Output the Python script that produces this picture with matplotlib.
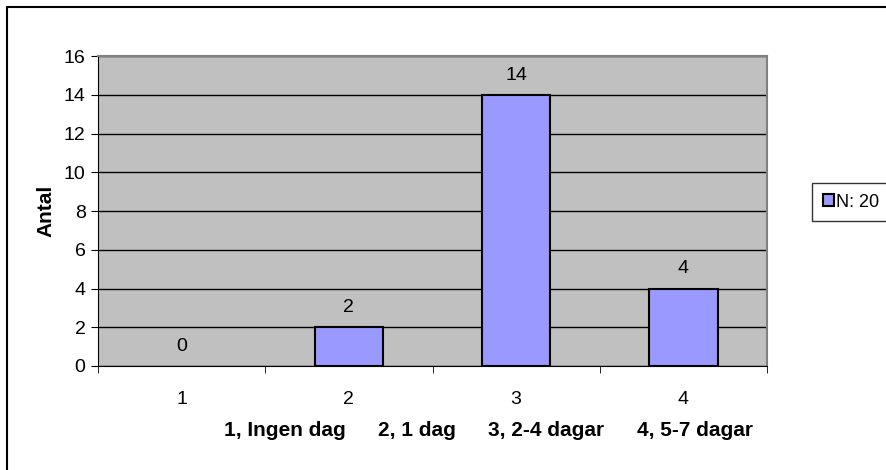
import matplotlib
matplotlib.use("Agg")
import matplotlib.pyplot as plt
from matplotlib.patches import Rectangle, Patch

# data
categories = [1, 2, 3, 4]
counts = [0, 2, 14, 4]
series_name = "N: 20"
category_names = ["1, Ingen dag", "2, 1 dag", "3, 2-4 dagar", "4, 5-7 dagar"]

plt.rcParams["font.family"] = ["Liberation Sans", "DejaVu Sans"]

W, H = 886, 470
fig = plt.figure(figsize=(W / 100, H / 100), dpi=100)
ax = fig.add_axes([98 / W, (H - 366) / H, (767 - 98) / W, (366 - 56) / H])

bar_color = "#9999FF"

# plot area
ax.set_facecolor("#C0C0C0")
ax.set_xlim(0.5, 4.5)
ax.set_ylim(0, 16)
ax.set_yticks(range(0, 17, 2))
ax.yaxis.grid(True, color="black", linewidth=1)
ax.set_axisbelow(True)

bars = ax.bar(categories, counts, width=0.41, color=bar_color,
              edgecolor="black", linewidth=1.5)
# an empty bar leaves no outline
for b, v in zip(bars, counts):
    if v == 0:
        b.set_linewidth(0)

for x, v in zip(categories, counts):
    ax.annotate(str(v), (x, v), xytext=(0, 8), textcoords="offset points",
                ha="center", va="bottom", fontsize=14)

# ticks: labels at the categories, tick marks between them
ax.set_xticks(categories)
ax.set_xticklabels([str(c) for c in categories], fontsize=14)
ax.tick_params(axis="x", which="major", length=0, pad=18)
ax.set_xticks([0.5, 1.5, 2.5, 3.5, 4.5], minor=True)
ax.tick_params(axis="x", which="minor", length=5, color="black")
ax.tick_params(axis="y", length=5, labelsize=14, pad=4)

for side in ["top", "right"]:
    ax.spines[side].set_color("#808080")
    ax.spines[side].set_linewidth(1.5)
ax.spines["left"].set_color("black")
ax.spines["bottom"].set_color("black")

ax.set_ylabel("Antal", fontsize=15, fontweight="bold", labelpad=6)

# category key under the axis, spread evenly from x=224 to x=753 px
key_left, key_right = 224, 753
texts = [fig.text(0, 1 - 430 / H, name, ha="left", va="center",
                  fontsize=15, fontweight="bold") for name in category_names]
renderer = fig.canvas.get_renderer()
widths = [t.get_window_extent(renderer).width for t in texts]
gap = (key_right - key_left - sum(widths)) / (len(texts) - 1)
x0 = key_left
for t, w in zip(texts, widths):
    t.set_x(x0 / W)
    x0 += w + gap

# legend box to the right
handle = Patch(facecolor=bar_color, edgecolor="black", linewidth=1.5,
               label=series_name)
fig.legend(handles=[handle], loc="center left",
           bbox_to_anchor=(803 / W, 1 - 202 / H), fontsize=13,
           frameon=True, fancybox=False, edgecolor="black",
           handlelength=0.6, handleheight=0.6, handletextpad=0.15,
           borderpad=0.6)

# chart border
fig.patches.append(Rectangle((7 / W, -0.05), 1.0, 1 - 7 / H + 0.05,
                             transform=fig.transFigure, fill=False,
                             edgecolor="black", linewidth=1.5))

fig.savefig("out.png", dpi=100)
